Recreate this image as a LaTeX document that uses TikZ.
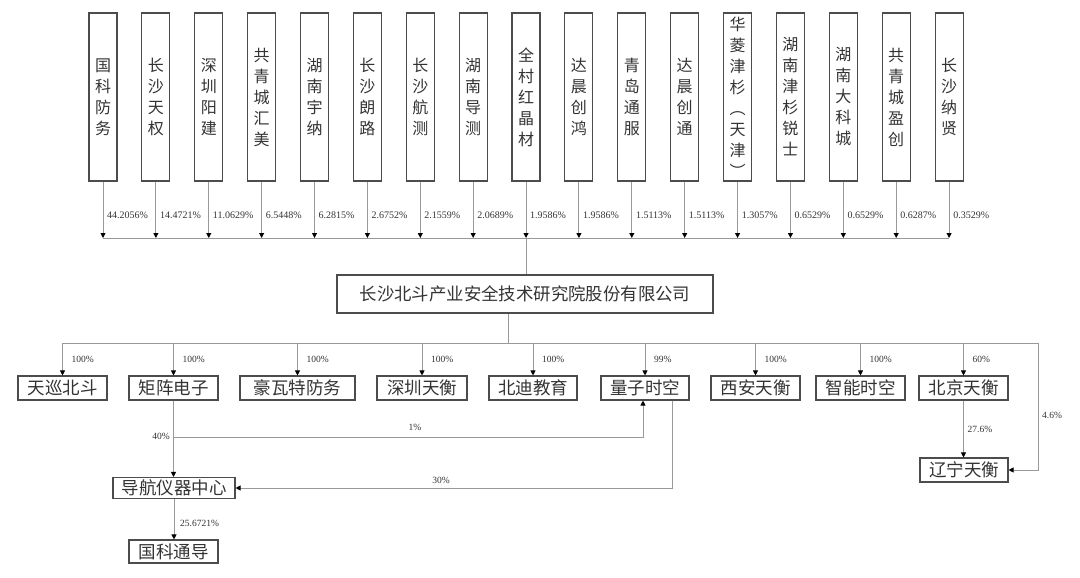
\documentclass[tikz,border=0pt]{standalone}
\usepackage{fontspec}
\setmainfont{Liberation Serif}
\newfontfamily\cjk{Noto Sans CJK SC}
\usetikzlibrary{arrows.meta}
\definecolor{linegray}{gray}{0.6}
\definecolor{boxgray}{gray}{0.3}
\definecolor{txtgray}{gray}{0.2}
\begin{document}
\begin{tikzpicture}[x=1pt,y=-1pt,
  topbox/.style={draw=boxgray, line width=1.1pt, minimum width=28pt, minimum height=168pt, inner sep=0pt, align=center, text=txtgray, font=\cjk\fontsize{16}{21}\selectfont},
  subbox/.style={draw=boxgray, line width=1.1pt, minimum height=24pt, inner sep=0pt, text=txtgray, font=\cjk\fontsize{17.5}{17.5}\selectfont},
  conn/.style={draw=linegray, line width=0.9pt},
  arr/.style={conn, -{Triangle[length=5pt,width=5pt,color=black]}},
  pct/.style={font=\fontsize{10}{10}\selectfont, text=txtgray, inner sep=0pt},
  spct/.style={font=\fontsize{9.5}{9.5}\selectfont, text=txtgray, inner sep=0pt}]
\useasboundingbox (0,0) rectangle (1080,578);
\coordinate (busT) at (0,238);
\coordinate (busS) at (0,343);
\foreach \i/\t/\p in {0/{国\\科\\防\\务}/44.2056\%, 1/{长\\沙\\天\\权}/14.4721\%, 2/{深\\圳\\阳\\建}/11.0629\%, 3/{共\\青\\城\\汇\\美}/6.5448\%, 4/{湖\\南\\宇\\纳}/6.2815\%, 5/{长\\沙\\朗\\路}/2.6752\%, 6/{长\\沙\\航\\测}/2.1559\%, 7/{湖\\南\\导\\测}/2.0689\%, 8/{全\\村\\红\\晶\\材}/1.9586\%, 9/{达\\晨\\创\\鸿}/1.9586\%, 10/{青\\岛\\通\\服}/1.5113\%, 11/{达\\晨\\创\\通}/1.5113\%, 12/{华\\菱\\津\\杉\\︵\\天\\津\\︶}/1.3057\%, 13/{湖\\南\\津\\杉\\锐\\士}/0.6529\%, 14/{湖\\南\\大\\科\\城}/0.6529\%, 15/{共\\青\\城\\盈\\创}/0.6287\%, 16/{长\\沙\\纳\\贤}/0.3529\%}{
  \node[topbox] (s\i) at ({103+52.88*\i},97) {\t};
  \draw[arr] (s\i.south) -- (s\i.south |- busT);
  \path (s\i.south) ++(4,34) node[pct,anchor=west] {\p};
}
\node[draw=boxgray, line width=1.1pt, minimum width=376pt, minimum height=38pt, inner sep=0pt, text=txtgray, font=\cjk\fontsize{17.4}{17.4}\selectfont] (main) at (525,294) {长沙北斗产业安全技术研究院股份有限公司};
\draw[conn] (s0.south |- busT) -- (s16.south |- busT);
\draw[conn] (s8.south |- busT) -- (s8.south |- main.north);
\coordinate (mo) at ([xshift=-17pt]main.south);
\draw[conn] (mo) -- (mo |- busS);
\foreach \n/\x/\w/\t/\p in {tx/62.5/89/天巡北斗/100\%, jz/173.5/89/矩阵电子/100\%, hw/297.5/115/豪瓦特防务/100\%, sz/422/90/深圳天衡/100\%, bd/533/88/北迪教育/100\%, qz/645/88/量子时空/99\%, xa/755.5/89/西安天衡/100\%, zn/860.5/89/智能时空/100\%, bj/963.5/89/北京天衡/60\%}{
  \node[subbox, minimum width=\w pt] (\n) at (\x,388) {\t};
  \draw[arr] (\n.north |- busS) -- (\n.north);
  \path (\n.north |- busS) ++(9,16) node[spct,anchor=west] {\p};
}
\node[subbox, minimum width=88pt] (ln) at (964,470) {辽宁天衡};
\coordinate (re) at (1038,343);
\draw[arr] (tx.north |- busS) -- (re) |- (ln.east);
\node[spct,anchor=west] at (1042,415) {4.6\%};
\draw[arr] (bj.south) -- (bj.south |- ln.north);
\path (bj.south) ++(4,29) node[spct,anchor=west] {27.6\%};
\node[subbox, minimum width=122pt, minimum height=21pt] (dh) at (174,488) {导航仪器中心};
\node[subbox, minimum width=89pt, minimum height=23pt] (gk) at (173.5,551.5) {国科通导};
\draw[arr] (jz.south) -- (jz.south |- dh.north);
\node[spct,anchor=east] at (170,436) {40\%};
\coordinate (q1) at ([xshift=-2pt]qz.south);
\coordinate (h1) at (0,437);
\draw[arr] (jz.south |- h1) -- (q1 |- h1) -- (q1);
\node[spct] at (415,427) {1\%};
\coordinate (q2) at ([xshift=27pt]qz.south);
\draw[arr] (q2) |- (dh.east);
\node[spct] at (441,480) {30\%};
\draw[arr] (dh.south) -- (dh.south |- gk.north);
\path (dh.south) ++(6,24) node[spct,anchor=west] {25.6721\%};
\end{tikzpicture}
\end{document}
